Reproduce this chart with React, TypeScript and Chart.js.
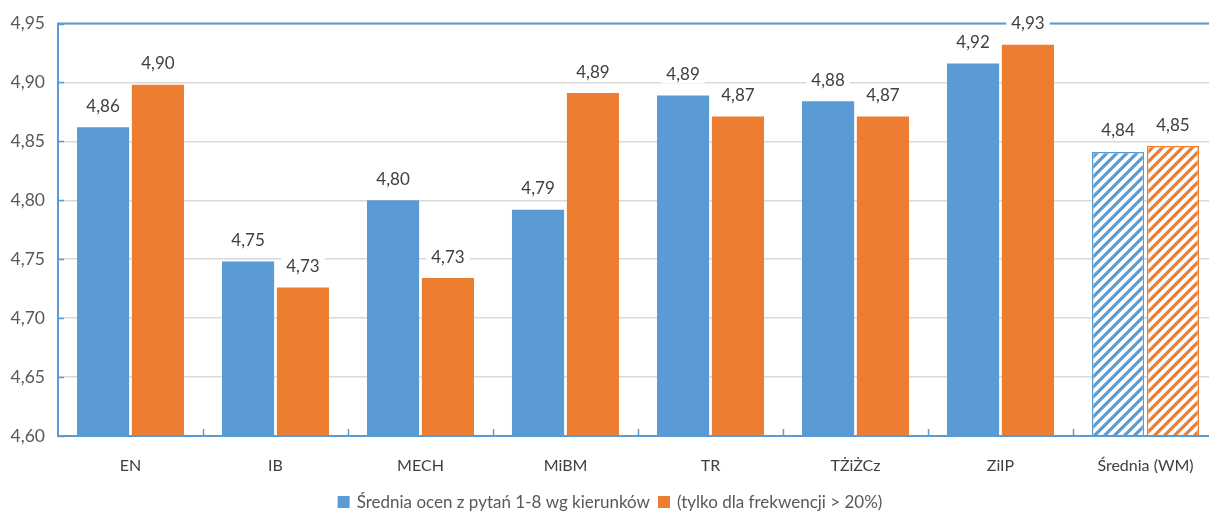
import React, { useEffect, useRef } from "react";
import { Chart, registerables } from "chart.js";

Chart.register(...registerables);

const categories = ["EN", "IB", "MECH", "MiBM", "TR", "TŻiŻCz", "ZiIP", "Średnia (WM)"];
const seriesAll = [4.862, 4.748, 4.8, 4.792, 4.889, 4.884, 4.916, 4.841];
const seriesFreq = [4.898, 4.726, 4.734, 4.891, 4.871, 4.871, 4.932, 4.846];
const seriesNames = ["Średnia ocen z pytań 1-8 wg kierunków", "(tylko dla frekwencji > 20%)"];
const yMin = 4.6;
const yMax = 4.95;
const yStep = 0.05;

const BLUE = "#5b9bd5";
const ORANGE = "#ed7d31";
const AXIS = "#5b9bd5";
const FONT = "Lato, 'Open Sans', sans-serif";

function makePattern(color: string): CanvasPattern | string {
  const c = document.createElement("canvas");
  c.width = 10;
  c.height = 10;
  const ctx = c.getContext("2d");
  if (!ctx) return color;
  ctx.fillStyle = "#ffffff";
  ctx.fillRect(0, 0, 10, 10);
  ctx.strokeStyle = color;
  ctx.lineWidth = 3.2;
  ctx.beginPath();
  ctx.moveTo(-5, 5);
  ctx.lineTo(5, -5);
  ctx.moveTo(0, 10);
  ctx.lineTo(10, 0);
  ctx.moveTo(5, 15);
  ctx.lineTo(15, 5);
  ctx.stroke();
  return ctx.createPattern(c, "repeat") || color;
}

const framePlugin = {
  id: "frame",
  beforeDatasetsDraw(chart: any) {
    const { ctx, chartArea: a, scales } = chart;
    ctx.save();
    ctx.strokeStyle = AXIS;
    ctx.lineWidth = 2;
    ctx.beginPath();
    ctx.moveTo(a.left, a.top);
    ctx.lineTo(a.right + 2, a.top);
    ctx.moveTo(a.left, a.top - 1);
    ctx.lineTo(a.left, a.bottom + 1);
    ctx.stroke();
    ctx.lineWidth = 1.5;
    const ys = scales.y;
    ctx.beginPath();
    for (let v = yMin; v <= yMax + 1e-9; v += yStep) {
      const py = Math.round(ys.getPixelForValue(v)) + 0.5;
      ctx.moveTo(a.left, py);
      ctx.lineTo(a.left + 6, py);
    }
    const n = categories.length;
    const w = (a.right - a.left) / n;
    for (let i = 1; i < n; i++) {
      const px = Math.round(a.left + i * w) + 0.5;
      ctx.moveTo(px, a.bottom);
      ctx.lineTo(px, a.bottom - 7);
    }
    ctx.stroke();
    ctx.restore();
  },
  afterDatasetsDraw(chart: any) {
    const { ctx, chartArea: a } = chart;
    ctx.save();
    ctx.strokeStyle = AXIS;
    ctx.lineWidth = 2;
    ctx.beginPath();
    ctx.moveTo(a.left - 1, a.bottom);
    ctx.lineTo(a.right + 2, a.bottom);
    ctx.stroke();
    ctx.font = `17px ${FONT}`;
    ctx.textAlign = "center";
    ctx.textBaseline = "middle";
    chart.data.datasets.forEach((ds: any, di: number) => {
      const meta = chart.getDatasetMeta(di);
      meta.data.forEach((el: any, i: number) => {
        const txt = Number(ds.data[i]).toFixed(2).replace(".", ",");
        const tw = ctx.measureText(txt).width;
        const cy = el.y - 22;
        ctx.fillStyle = "#ffffff";
        ctx.fillRect(el.x - tw / 2 - 5, cy - 10, tw + 10, 20);
        ctx.fillStyle = "#404040";
        ctx.fillText(txt, el.x, cy + 1);
      });
    });
    // custom legend
    ctx.font = `17px ${FONT}`;
    ctx.textAlign = "left";
    const colors = [BLUE, ORANGE];
    const box = 12;
    const gapBT = 7;
    const gapItems = 8;
    const widths = seriesNames.map((t) => box + gapBT + ctx.measureText(t).width);
    const total = widths[0] + gapItems + widths[1];
    let x = 610 - total / 2;
    const ly = chart.height - 10;
    seriesNames.forEach((t, i) => {
      ctx.fillStyle = colors[i];
      ctx.fillRect(x, ly - box / 2 - 1, box, box);
      ctx.fillStyle = "#595959";
      ctx.fillText(t, x + box + gapBT, ly);
      x += widths[i] + gapItems;
    });
    ctx.restore();
  },
};

export default function App() {
  const ref = useRef<HTMLCanvasElement>(null);
  useEffect(() => {
    document.body.style.margin = "0";
    if (!ref.current) return;
    const patB = makePattern(BLUE);
    const patO = makePattern(ORANGE);
    const last = categories.length - 1;
    const bg = (solid: string, pat: any) => categories.map((_, i) => (i === last ? pat : solid));
    const bw = categories.map((_, i) => (i === last ? 1.5 : 0));
    const chart = new Chart(ref.current, {
      type: "bar",
      data: {
        labels: categories,
        datasets: [
          {
            label: seriesNames[0],
            data: seriesAll,
            backgroundColor: bg(BLUE, patB),
            borderColor: BLUE,
            borderWidth: bw,
            categoryPercentage: 0.757,
            barPercentage: 0.95,
          },
          {
            label: seriesNames[1],
            data: seriesFreq,
            backgroundColor: bg(ORANGE, patO),
            borderColor: ORANGE,
            borderWidth: bw,
            categoryPercentage: 0.757,
            barPercentage: 0.95,
          },
        ],
      },
      options: {
        animation: false,
        responsive: false,
        maintainAspectRatio: false,
        layout: { padding: { top: 20, right: 0, left: 0, bottom: 0 } },
        plugins: {
          tooltip: { enabled: false },
          legend: { display: false },
        },
        scales: {
          x: {
            grid: { display: false, drawTicks: false },
            border: { display: false },
            afterFit: (axis: any) => {
              axis.height = 77;
            },
            ticks: { color: "#404040", font: { size: 16, family: FONT }, padding: 20 },
          },
          y: {
            min: yMin,
            max: yMax,
            grid: { color: "#d9d9d9", lineWidth: 1.5, drawTicks: false },
            border: { display: false },
            afterFit: (axis: any) => {
              axis.width = 58;
            },
            ticks: {
              stepSize: yStep,
              color: "#595959",
              padding: 13,
              font: { size: 17.5, family: FONT },
              callback: (v: any) => Number(v).toFixed(2).replace(".", ","),
            },
          },
        },
      },
      plugins: [framePlugin],
    });
    return () => chart.destroy();
  }, []);
  return (
    <div style={{ width: 1209, height: 513, overflow: "hidden", position: "relative" }}>
      <canvas ref={ref} width={1218} height={513} style={{ display: "block", width: 1218, height: 513 }} />
    </div>
  );
}
